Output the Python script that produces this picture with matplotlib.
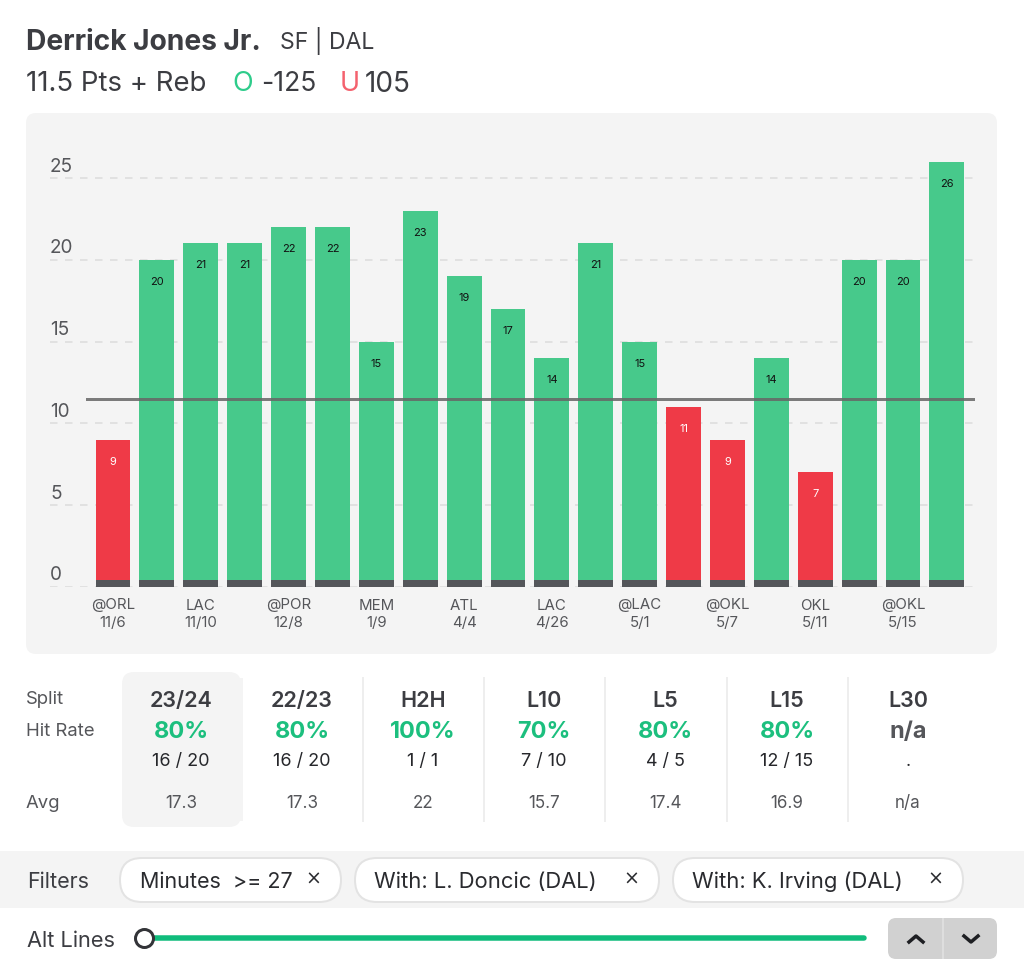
import matplotlib
matplotlib.use("Agg")
import matplotlib.pyplot as plt
from matplotlib.patches import FancyBboxPatch, Rectangle

plt.rcParams["font.family"] = ["Inter", "DejaVu Sans"]

# chart values
points = [9, 20, 21, 21, 22, 22, 15, 23, 19, 17, 14, 21, 15, 11, 9, 14, 7, 20, 20, 26]
prop_line = 11.5
base_height = 0.42
y_ticks = [0, 5, 10, 15, 20, 25]
x_tick_games = [0, 2, 4, 6, 8, 10, 12, 14, 16, 18]
x_tick_labels = ["@ORL\n11/6", "LAC\n11/10", "@POR\n12/8", "MEM\n1/9", "ATL\n4/4",
                 "LAC\n4/26", "@LAC\n5/1", "@OKL\n5/7", "OKL\n5/11", "@OKL\n5/15"]

# splits table
splits = ["23/24", "22/23", "H2H", "L10", "L5", "L15", "L30"]
hit_rates = ["80%", "80%", "100%", "70%", "80%", "80%", "n/a"]
counts = ["16 / 20", "16 / 20", "1 / 1", "7 / 10", "4 / 5", "12 / 15", "."]
avgs = ["17.3", "17.3", "22", "15.7", "17.4", "16.9", "n/a"]
col_x = [181, 302, 423, 544, 665, 787, 908]
sep_x = [363, 484, 605, 727, 848]

filters = ["Minutes  >= 27", "With: L. Doncic (DAL)", "With: K. Irving (DAL)"]
pills = [(120, 341, 140, 313), (355, 659, 374, 631), (673, 963, 692, 935)]

GREEN = "#47C98B"
RED = "#EF3A47"
TEXT = "#3C3D42"
W, H = 1024, 966
PX = 0.72  # points per pixel at dpi 100


def round_box(ax, x0, x1, y0, y1, r, fc, ec="none", lw=0, z=1):
    ax.add_patch(FancyBboxPatch((x0 + r, y0 + r), x1 - x0 - 2 * r, y1 - y0 - 2 * r,
                                boxstyle="round,pad=%f,rounding_size=%f" % (r, r),
                                fc=fc, ec=ec, lw=lw, zorder=z))


fig = plt.figure(figsize=(W / 100, H / 100), dpi=100, facecolor="white")

# page layer, in pixels
page = fig.add_axes([0, 0, 1, 1])
page.set_xlim(0, W)
page.set_ylim(H, 0)
page.axis("off")

page.text(26, 42, "Derrick Jones Jr.", fontsize=28.2 * PX, fontweight="bold", color=TEXT, va="center")
page.text(280, 41, "SF | DAL", fontsize=23 * PX, color=TEXT, va="center")
page.text(26, 84, "11.5 Pts + Reb", fontsize=27.6 * PX, color=TEXT, va="center")
page.text(232, 84, "O", fontsize=27 * PX, color="#2ECC8B", va="center")
page.text(261, 84, "-125", fontsize=26.5 * PX, color=TEXT, va="center")
page.text(340, 84, "U", fontsize=27 * PX, color="#F4626E", va="center")
page.text(365, 84, "105", fontsize=28 * PX, color=TEXT, va="center")

round_box(page, 26, 997, 113, 654, 10, "#F4F4F4")

# splits
round_box(page, 122, 241, 672, 827, 12, "#F4F4F4")
page.add_patch(Rectangle((238, 678), 5, 143, fc="#F4F4F4", ec="none", zorder=1))
for x in sep_x:
    page.plot([x, x], [678, 821], color="#EEEEEE", lw=2 * PX, zorder=1)

for label, y in [("Split", 700), ("Hit Rate", 732), ("Avg", 804)]:
    page.text(26, y, label, fontsize=18.5 * PX, color="#55565A", va="center")

for i, x in enumerate(col_x):
    page.text(x, 701, splits[i], fontsize=21.5 * PX, fontweight="semibold", color=TEXT, ha="center", va="center")
    hit_color = "#55565A" if hit_rates[i] == "n/a" else "#1CBF7E"
    page.text(x, 732, hit_rates[i], fontsize=23.5 * PX, fontweight="bold", color=hit_color, ha="center", va="center")
    page.text(x, 762, counts[i], fontsize=18 * PX, color="#26272B", ha="center", va="center")
    page.text(x, 804, avgs[i], fontsize=17 * PX, color="#55565A", ha="center", va="center")

# filters band
page.add_patch(Rectangle((0, 851), W, 57, fc="#F4F4F4", ec="none", zorder=1))
page.text(27, 882, "Filters", fontsize=21.5 * PX, color=TEXT, va="center")
for name, (x0, x1, tx, cx) in zip(filters, pills):
    round_box(page, x0, x1, 858, 902, 22, "white", ec="#E3E3E3", lw=2 * PX, z=2)
    size = 21.5 if name.startswith("Minutes") else 22
    page.text(tx, 882, name, fontsize=size * PX, color="#2A2B2F", va="center", zorder=3)
    page.text(cx, 879, "\u00d7", fontsize=19 * PX, color="#2A2B2F", ha="center", va="center",
              family=["DejaVu Sans"], zorder=3)

# alt lines slider
page.text(27, 941, "Alt Lines", fontsize=21.8 * PX, color=TEXT, va="center")
page.plot([145, 864], [938, 938], color="#10BC7C", lw=5.5 * PX, solid_capstyle="round", zorder=2)
page.plot([144], [938], "o", ms=18 * PX, mfc="white", mec="#333438", mew=3 * PX, zorder=3)
round_box(page, 888, 997, 918, 959, 8, "#D1D1D1")
page.plot([943, 943], [918, 959], color="#DEDEDE", lw=2 * PX, solid_capstyle="butt", zorder=2)
page.plot([909, 916, 923], [942, 936, 942], color="#1E1F23", lw=3.5 * PX, zorder=3)
page.plot([964, 971, 978], [936, 942, 936], color="#1E1F23", lw=3.5 * PX, zorder=3)

# chart layer: y=0 at pixel 587, one unit 16.36px, one game 43.89px
left, right, bottom, top = 50, 973, 587, 130
ax = fig.add_axes([left / W, 1 - bottom / H, (right - left) / W, (bottom - top) / H])
ax.patch.set_alpha(0)
ax.set_xlim((left - 113) / 43.89, (right - 113) / 43.89)
ax.set_ylim(0, (bottom - top) / 16.36)
for s in ax.spines.values():
    s.set_visible(False)

games = list(range(len(points)))
colors = [GREEN if p > prop_line else RED for p in points]
ax.set_yticks(y_ticks)
ax.set_yticklabels([])
ax.grid(axis="y", color="#DCDCDC", lw=1.5 * PX, linestyle=(0, (5, 5)), zorder=0)
ax.set_axisbelow(True)
ax.bar(games, points, width=0.795, color=colors, zorder=2)
ax.bar(games, [base_height] * len(games), width=0.795, color="#54565A", zorder=3)
ax.plot([-0.59, 19.59], [prop_line, prop_line], color="#666666", alpha=0.85, lw=3 * PX, zorder=4, clip_on=False)

for g, p, c in zip(games, points, colors):
    ax.annotate(str(p), (g, p), xytext=(0, -22 * PX), textcoords="offset points", ha="center", va="center",
                fontsize=11 * PX, color="white" if c == RED else "#111111", zorder=5)
for t in y_ticks:
    ax.annotate(str(t), (0, t), xycoords=("axes fraction", "data"), xytext=(0, 11.5 * PX),
                textcoords="offset points", ha="left", va="center", fontsize=19 * PX, color="#55565A")

ax.set_xticks(x_tick_games)
ax.set_xticklabels(x_tick_labels, fontsize=15 * PX, color="#55565A", linespacing=1.35)
ax.tick_params(axis="both", length=0, pad=11.5 * PX)

fig.savefig("out.png", dpi=100)
